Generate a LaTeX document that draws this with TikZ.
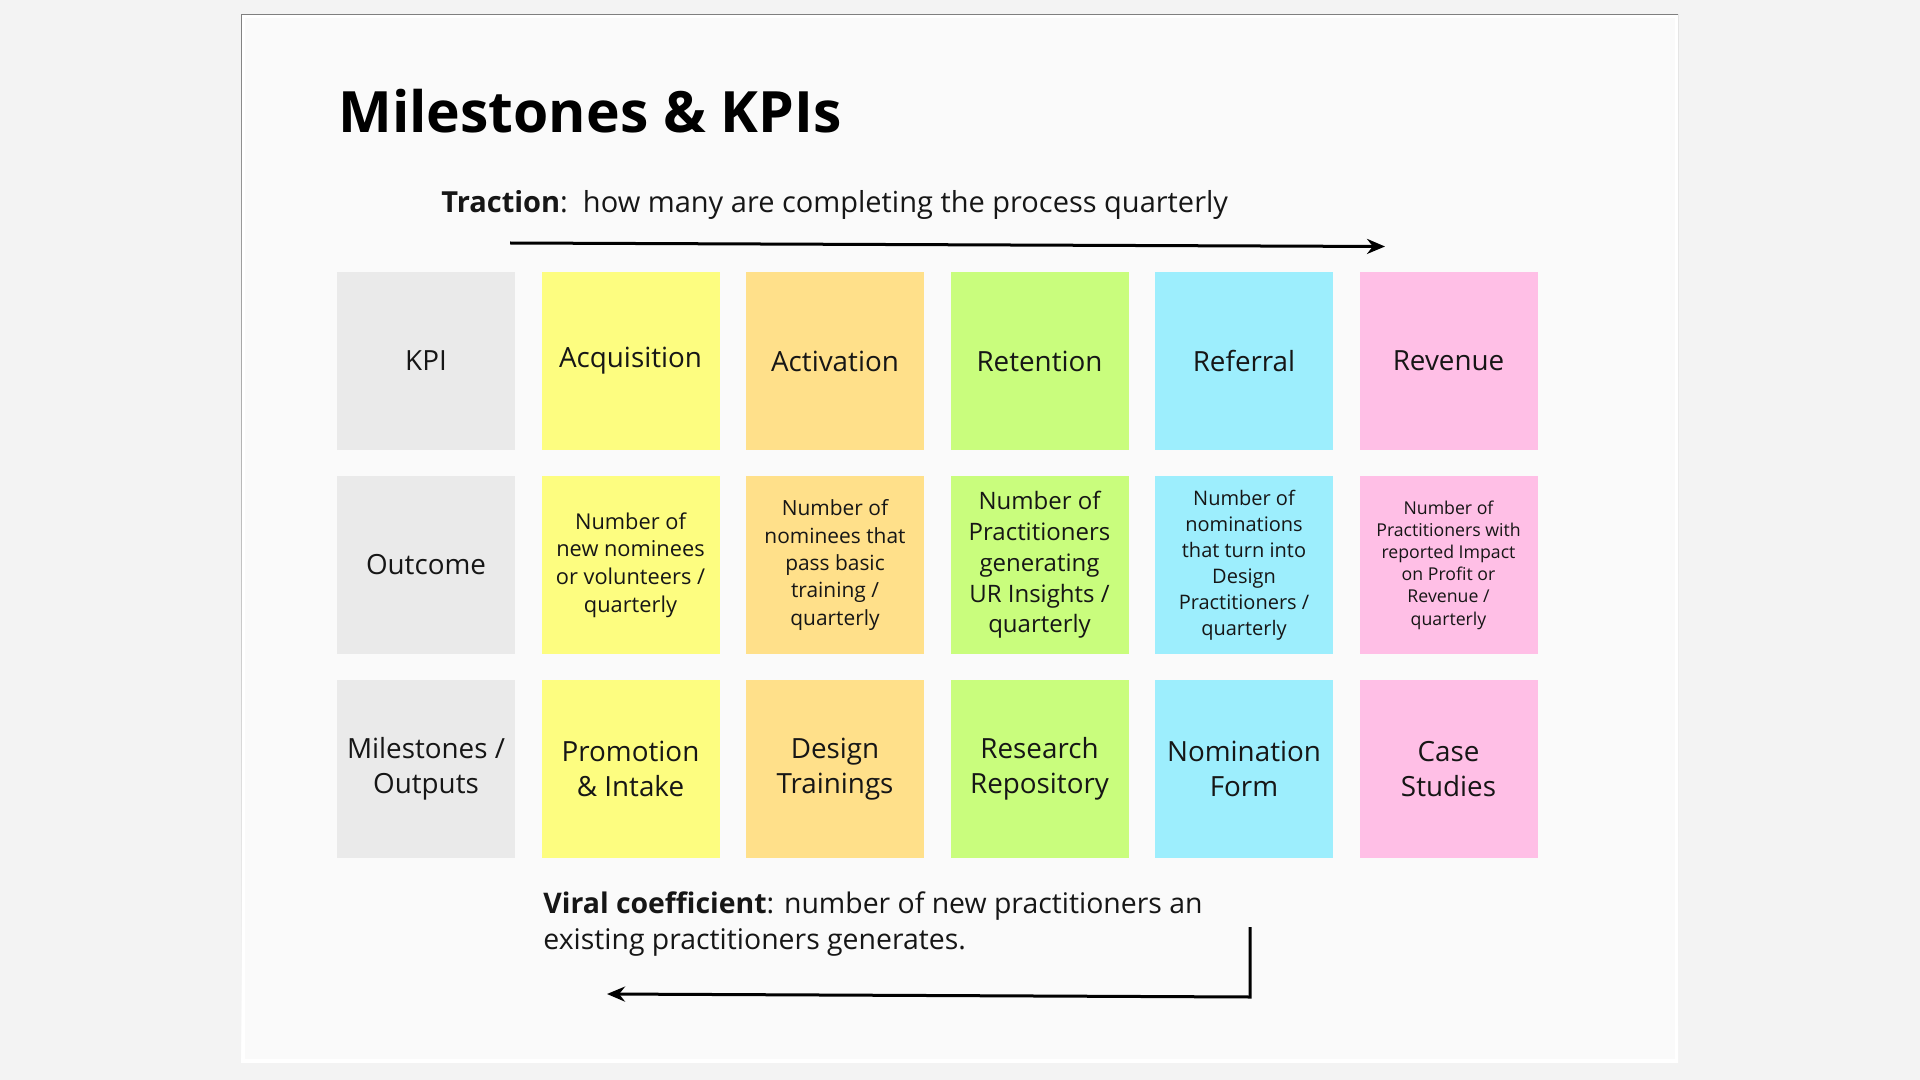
\documentclass[tikz,border=0pt]{standalone}
\usepackage{fontspec}
\setmainfont{Open Sans}
\usetikzlibrary{positioning,arrows.meta}

\definecolor{pagebg}{HTML}{F3F3F3}
\definecolor{shade}{HTML}{EFEFEF}
\definecolor{card}{HTML}{FAFAFA}
\definecolor{ink}{HTML}{161616}
\definecolor{kpigray}{HTML}{EAEAEA}
\definecolor{acqyellow}{HTML}{FDFD80}
\definecolor{actorange}{HTML}{FFE08A}
\definecolor{retgreen}{HTML}{C9FD7D}
\definecolor{refcyan}{HTML}{9DEEFD}
\definecolor{revpink}{HTML}{FFBFE6}

\newcommand\notefont{\fontsize{13.9pt}{17.25pt}\selectfont}

\begin{document}
\begin{tikzpicture}[
    x=0.5pt, y=-0.5pt,
    node distance=13pt and 13.25pt,
    % Style for the square sticky notes
    note/.style={minimum width=89pt, minimum height=89pt, inner sep=0pt,
        outer sep=0pt, align=center, text=ink, font=\notefont},
    kpinote/.style={note, fill=kpigray},
    acqnote/.style={note, fill=acqyellow},
    actnote/.style={note, fill=actorange},
    retnote/.style={note, fill=retgreen},
    refnote/.style={note, fill=refcyan},
    revnote/.style={note, fill=revpink},
    % Style for the long black arrows
    flow/.style={line width=1.5pt, draw=black, -{Stealth[length=9pt, width=7.5pt]}}
]

    % --- 1. Background and card ---
    \useasboundingbox (0,0) rectangle (1920,1080);
    \fill[pagebg] (0,0) rectangle (1920,1080);
    \fill[shade] (241,15) rectangle (1678,1062);
    \draw[white, line width=1.5pt, fill=card] (243,17) rectangle (1676,1060);

    % --- 2. Define Coordinates ---
    \coordinate (first) at (426,361);

    \coordinate (trac_start) at (510,243);
    \coordinate (trac_end) at (1385,246.5);

    \coordinate (loop_top) at (1250,927);
    \coordinate (loop_corner) at (1250,997);
    \coordinate (loop_end) at (607,994);

    % --- 3. Titles ---
    \node[anchor=base west, inner sep=0pt, text=black,
        font=\fontsize{28.5pt}{34pt}\selectfont\bfseries] (title) at (338,133) {Milestones \& KPIs};
    \node[anchor=base west, inner sep=0pt, text=ink,
        font=\fontsize{14.5pt}{17pt}\selectfont] (traction) at (441,212.5)
        {\textbf{Traction}:\ \ how many are completing the process quarterly};

    % --- 4. Sticky notes ---
    % KPI row
    \node[kpinote] (kpi) at (first) {KPI};
    \node[acqnote, right=of kpi] (acq) {Acquisition};
    \node[actnote, right=of acq] (act) {Activation};
    \node[retnote, right=of act] (ret) {Retention};
    \node[refnote, right=of ret] (ref) {Referral};
    \node[revnote, right=of ref] (rev) {Revenue};

    % Outcome row
    \node[kpinote, below=of kpi] (outcome) {Outcome};
    \node[acqnote, below=of acq, font=\fontsize{10.9pt}{13.9pt}\selectfont] (acq_out)
        {Number of\\new nominees\\or volunteers /\\quarterly};
    \node[actnote, below=of act, font=\fontsize{10.45pt}{13.65pt}\selectfont] (act_out)
        {Number of\\nominees that\\pass basic\\training /\\quarterly};
    \node[retnote, below=of ret, font=\fontsize{12pt}{15.4pt}\selectfont] (ret_out)
        {Number of\\Practitioners\\generating\\UR Insights /\\quarterly};
    \node[refnote, below=of ref, font=\fontsize{10pt}{13pt}\selectfont] (ref_out)
        {Number of\\nominations\\that turn into\\Design\\Practitioners /\\quarterly};
    \node[revnote, below=of rev, font=\fontsize{8.85pt}{11.1pt}\selectfont] (rev_out)
        {Number of\\Practitioners with\\reported Impact\\on Profit or\\Revenue /\\quarterly};

    % Milestones row
    \node[kpinote, below=of outcome] (mile) {Milestones /\\Outputs};
    \node[acqnote, below=of acq_out] (acq_mile) {Promotion\\\& Intake};
    \node[actnote, below=of act_out] (act_mile) {Design\\Trainings};
    \node[retnote, below=of ret_out] (ret_mile) {Research\\Repository};
    \node[refnote, below=of ref_out] (ref_mile) {Nomination\\Form};
    \node[revnote, below=of rev_out] (rev_mile) {Case\\Studies};

    % --- 5. Viral coefficient ---
    \node[anchor=base west, inner sep=0pt, align=left, text=ink,
        font=\fontsize{14.2pt}{18pt}\selectfont] (viral) at (543,949)
        {\textbf{Viral coefficient}: number of new practitioners an\\existing practitioners generates.};

    % --- 6. Arrows ---
    \draw[flow] (trac_start) -- (trac_end);
    \draw[flow] (loop_top) -- (loop_corner) -- (loop_end);

\end{tikzpicture}
\end{document}
